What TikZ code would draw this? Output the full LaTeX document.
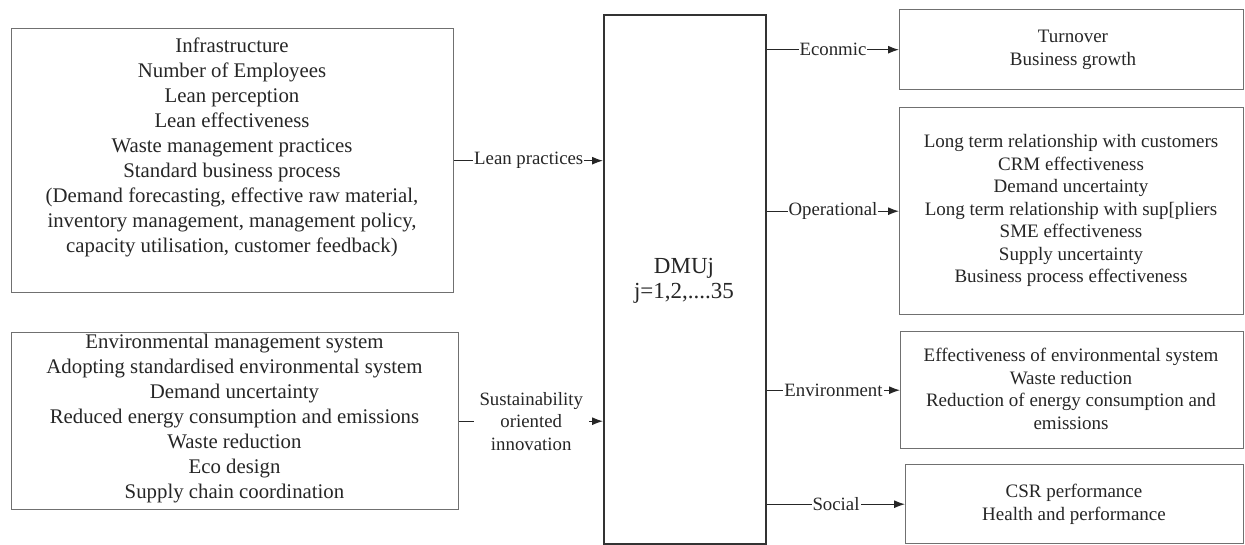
\documentclass[tikz,border=0pt]{standalone}
\usepackage{fontspec}
\setmainfont{Liberation Serif}
\usetikzlibrary{arrows.meta}
\definecolor{ink}{HTML}{262626}
\definecolor{frame}{HTML}{707070}
\definecolor{dmuframe}{HTML}{333333}

\begin{document}
\begin{tikzpicture}[x=1pt,y=-1pt,
  box/.style={draw=frame,line width=1.4pt,anchor=north west,inner sep=0pt},
  lefttext/.style={text=ink,align=center,inner sep=0pt,font=\fontsize{20.8}{25}\selectfont},
  righttext/.style={text=ink,align=center,inner sep=0pt,font=\fontsize{19}{22.5}\selectfont},
  lbl/.style={text=ink,fill=white,inner xsep=1pt,inner ysep=1pt,align=center,font=\fontsize{18.8}{22.5}\selectfont},
  link/.style={draw=ink,line width=1.2pt,-{Latex[length=11pt,width=8pt]}}]
\useasboundingbox (0,0) rectangle (1245,545);
\fill[white] (0,0) rectangle (1245,545);

% input boxes
\node[box,minimum width=442pt,minimum height=264pt] (lean) at (11,28) {};
\node[lefttext] (leantext) at (232,147) {Infrastructure\\
  Number of Employees\\
  Lean perception\\
  Lean effectiveness\\
  Waste management practices\\
  Standard business process\\
  (Demand forecasting, effective raw material,\\
  inventory management, management policy,\\
  capacity utilisation, customer feedback)};

\node[box,minimum width=447pt,minimum height=177pt] (sust) at (11,332) {};
\node[lefttext] (susttext) at (234.5,419) {Environmental management system\\
  Adopting standardised environmental system\\
  Demand uncertainty\\
  Reduced energy consumption and emissions\\
  Waste reduction\\
  Eco design\\
  Supply chain coordination};

% decision making units
\node[box,draw=dmuframe,line width=2pt,minimum width=162pt,minimum height=529pt] (dmu) at (603,14) {};
\node[text=ink,align=center,font=\fontsize{23}{24.5}\selectfont] (dmutext) at (684,281) {DMUj\\j=1,2,....35};

% output boxes
\node[box,minimum width=344pt,minimum height=80pt] (econ) at (899,9) {};
\node[righttext] (econtext) at (1073,50) {Turnover\\Business growth};

\node[box,minimum width=344pt,minimum height=207pt] (oper) at (899,107) {};
\node[righttext] (opertext) at (1071,210.5) {Long term relationship with customers\\
  CRM effectiveness\\
  Demand uncertainty\\
  Long term relationship with sup[pliers\\
  SME effectiveness\\
  Supply uncertainty\\
  Business process effectiveness};

\node[box,minimum width=343pt,minimum height=117pt] (env) at (900,331) {};
\node[righttext] (envtext) at (1071,389) {Effectiveness of environmental system\\
  Waste reduction\\
  Reduction of energy consumption and\\
  emissions};

\node[box,minimum width=338pt,minimum height=79pt] (soc) at (905,464) {};
\node[righttext] (soctext) at (1074,504.5) {CSR performance\\Health and performance};

% connectors
\draw[link] (lean.east) -- node[lbl] {Lean practices} (lean.east -| dmu.west);
\draw[link] (sust.east) -- node[lbl,inner xsep=6pt] {Sustainability\\oriented\\innovation} (sust.east -| dmu.west);
\draw[link] (econ.west -| dmu.east) -- node[lbl] {Econmic} (econ.west);
\draw[link] (oper.west -| dmu.east) -- node[lbl] {Operational} (oper.west);
\draw[link] (env.west -| dmu.east) -- node[lbl] {Environment} (env.west);
\draw[link] (soc.west -| dmu.east) -- node[lbl] {Social} (soc.west);
\end{tikzpicture}
\end{document}
